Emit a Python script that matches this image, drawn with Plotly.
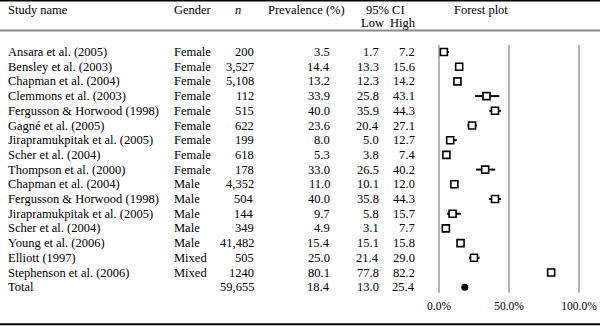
import plotly.graph_objects as go

studies = ["Ansara et al. (2005)", "Bensley et al. (2003)", "Chapman et al. (2004)",
           "Clemmons et al. (2003)", "Fergusson & Horwood (1998)", "Gagné et al. (2005)",
           "Jirapramukpitak et al. (2005)", "Scher et al. (2004)", "Thompson et al. (2000)",
           "Chapman et al. (2004)", "Fergusson & Horwood (1998)", "Jirapramukpitak et al. (2005)",
           "Scher et al. (2004)", "Young et al. (2006)", "Elliott (1997)",
           "Stephenson et al. (2006)", "Total"]
gender = ["Female"] * 9 + ["Male"] * 5 + ["Mixed"] * 2 + [""]
n_text = ["200", "3,527", "5,108", "112", "515", "622", "199", "618", "178",
          "4,352", "504", "144", "349", "41,482", "505", "1240", "59,655"]
prevalence = [3.5, 14.4, 13.2, 33.9, 40.0, 23.6, 8.0, 5.3, 33.0,
              11.0, 40.0, 9.7, 4.9, 15.4, 25.0, 80.1, 18.4]
ci_low = [1.7, 13.3, 12.3, 25.8, 35.9, 20.4, 5.0, 3.8, 26.5,
          10.1, 35.8, 5.8, 3.1, 15.1, 21.4, 77.8, 13.0]
ci_high = [7.2, 15.6, 14.2, 43.1, 44.3, 27.1, 12.7, 7.4, 40.2,
           12.0, 44.3, 15.7, 7.7, 15.8, 29.0, 82.2, 25.4]
tick_vals = [0, 50, 100]
tick_text = ["0.0%", "50.0%", "100.0%"]

W, H = 600, 326
ROW0, DY = 52.0, 14.7          # pixel y of first row, row spacing
GRID_TOP, GRID_BOT = 45.0, 293.0
X0PX, PXPER = 439.0, 1.4       # pixel of 0%, pixels per %

def py(pix):
    return 1 - pix / H

def row_of(pix):
    return (pix - ROW0) / DY

font = dict(family="Liberation Serif, Times New Roman, serif", size=12.5, color="black")

fig = go.Figure()
rows = list(range(len(studies)))
nstud = len(studies) - 1

# CI lines
for i in range(nstud):
    fig.add_trace(go.Scatter(x=[ci_low[i], ci_high[i]], y=[rows[i], rows[i]], mode="lines",
                             line=dict(color="black", width=2), showlegend=False,
                             hoverinfo="skip"))
# study markers
fig.add_trace(go.Scatter(x=prevalence[:nstud], y=rows[:nstud], mode="markers",
                         marker=dict(symbol="square", size=7, color="white",
                                     line=dict(color="black", width=1.6)),
                         showlegend=False))
# total marker
fig.add_trace(go.Scatter(x=prevalence[nstud:], y=rows[nstud:], mode="markers",
                         marker=dict(symbol="circle", size=7, color="black"),
                         showlegend=False))

x_left = -(X0PX - 420) / PXPER
x_right = x_left + 180 / PXPER
fig.update_xaxes(domain=[420 / W, 1.0], range=[x_left, x_right],
                 tickvals=tick_vals, ticktext=tick_text, showgrid=True,
                 gridcolor="#b4b4b4", gridwidth=2, zeroline=False, showline=False,
                 ticks="", ticklabelstandoff=4,
                 tickfont=dict(family=font["family"], size=11.5, color="black"))
fig.update_yaxes(domain=[py(GRID_BOT), py(GRID_TOP)],
                 range=[row_of(GRID_BOT), row_of(GRID_TOP)],
                 showgrid=False, zeroline=False, showticklabels=False, showline=False)

ann = []
def add(text, xpix, ypix, anchor="left"):
    ann.append(dict(text=text, x=xpix / W, y=py(ypix), xref="paper", yref="paper",
                    xanchor=anchor, yanchor="middle", showarrow=False, font=font))

# headers
add("Study name", 6, 10)
add("Gender", 172, 10)
add("<i>n</i>", 238, 10, "center")
add("Prevalence (%)", 306, 10, "center")
add("95% CI", 385, 10, "center")
add("Low", 372, 23, "center")
add("High", 403, 23, "center")
add("Forest plot", 481, 10, "center")

for i in rows:
    y = ROW0 + DY * i
    add(studies[i], 6, y)
    if gender[i]:
        add(gender[i], 172, y)
    add(n_text[i], 256, y, "right")
    add(f"{prevalence[i]:.1f}", 332, y, "right")
    add(f"{ci_low[i]:.1f}", 381, y, "right")
    add(f"{ci_high[i]:.1f}", 417, y, "right")

shapes = [
    dict(type="line", xref="paper", yref="paper", x0=0, x1=1, y0=py(0.7), y1=py(0.7),
         line=dict(color="black", width=1.5)),
    dict(type="line", xref="paper", yref="paper", x0=0, x1=1, y0=py(30.5), y1=py(30.5),
         line=dict(color="#8a8a8a", width=2)),
    dict(type="line", xref="paper", yref="paper", x0=0, x1=1, y0=py(324.3), y1=py(324.3),
         line=dict(color="black", width=2)),
]

fig.update_layout(width=W, height=H, margin=dict(l=0, r=0, t=0, b=0),
                  paper_bgcolor="white", plot_bgcolor="white",
                  annotations=ann, shapes=shapes, showlegend=False)

fig.write_html("out.html", config={"displayModeBar": False},
               post_script="document.body.style.margin='0';document.body.style.overflow='hidden';")
